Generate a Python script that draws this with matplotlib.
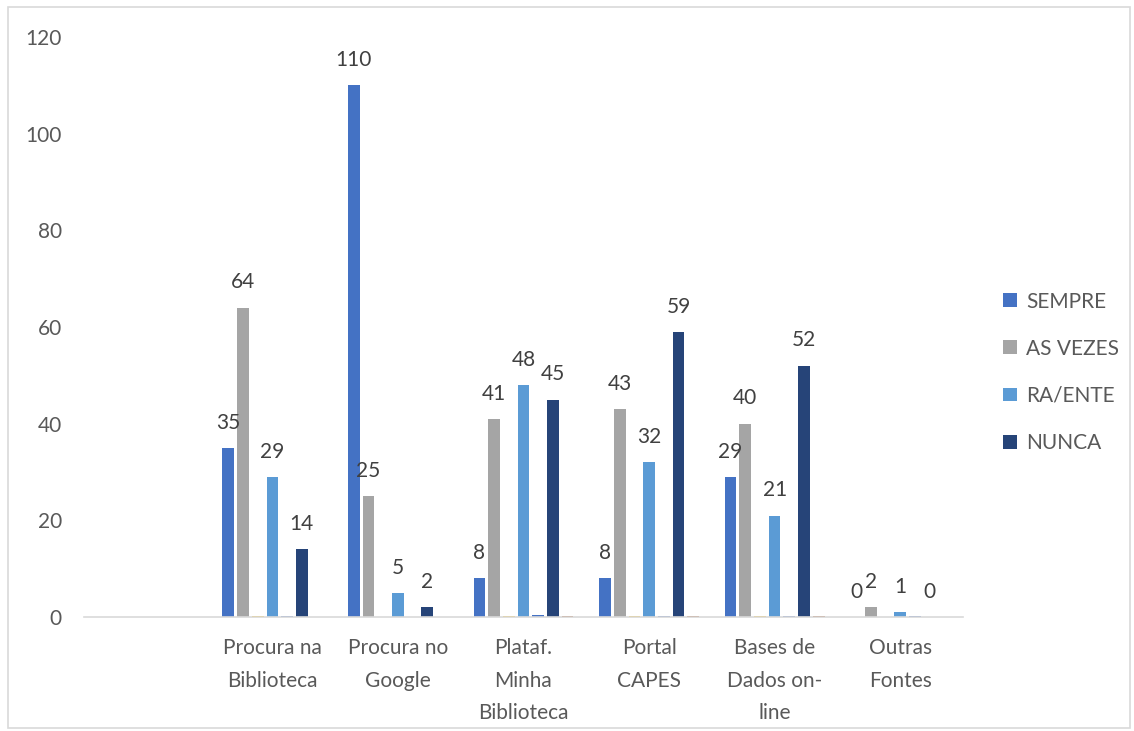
import numpy as np
import matplotlib
matplotlib.use('Agg')
from matplotlib import pyplot as plt
from matplotlib.patches import Rectangle

plt.rcParams['font.family'] = ['Lato', 'DejaVu Sans']

categories = ['', 'Procura na\nBiblioteca', 'Procura no\nGoogle', 'Plataf.\nMinha\nBiblioteca',
              'Portal\nCAPES', 'Bases de\nDados on-\nline', 'Outras\nFontes']

# main series (first category is empty)
sempre   = [np.nan, 35, 110, 8, 8, 29, 0]
as_vezes = [np.nan, 64, 25, 41, 43, 40, 2]
ra_ente  = [np.nan, 29, 5, 48, 32, 21, 1]
nunca    = [np.nan, 14, 2, 45, 59, 52, 0]

# near-zero series without legend entry
hidden_a = [np.nan, 0.3, 0.1, 0.2, 0.2, 0.2, 0.0]
hidden_b = [np.nan, 0.3, 0.1, 0.4, 0.3, 0.3, 0.2]
hidden_c = [np.nan, 0.0, 0.0, 0.3, 0.3, 0.3, 0.0]

series = [
    (sempre, 'SEMPRE', '#4472C4', True),
    (as_vezes, 'AS VEZES', '#A5A5A5', True),
    (hidden_a, None, '#FFC000', False),
    (ra_ente, 'RA/ENTE', '#5B9BD5', True),
    (hidden_b, None, '#4472C4', False),
    (nunca, 'NUNCA', '#264478', True),
    (hidden_c, None, '#9E480E', False),
]

fig = plt.figure(figsize=(11.34, 7.31), dpi=100)
ax = fig.add_axes([84 / 1134, 1 - 617 / 731, 879 / 1134, 580 / 731])

x = np.arange(len(categories))
step = 0.117
width = 0.093
handles = []
for i, (vals, name, color, labelled) in enumerate(series):
    pos = x + (i - 3) * step
    bars = ax.bar(pos, vals, width, color=color, label=name)
    if labelled:
        handles.append(bars)
        for p, v in zip(pos, vals):
            if np.isnan(v):
                continue
            ax.annotate('{0:g}'.format(v), (p, v), xytext=(0, 11), textcoords='offset points',
                        ha='center', va='bottom', fontsize=15, color='#404040')

ax.set_xlim(-0.5, len(categories) - 0.5)
ax.set_ylim(0, 120)
ax.set_yticks(range(0, 121, 20))
ax.set_xticks(x)
ax.set_xticklabels(categories, fontsize=15, color='#595959', linespacing=1.8, va='top')
ax.tick_params(axis='y', labelsize=15, labelcolor='#595959', length=0, pad=16)
ax.tick_params(axis='x', length=0, pad=15)
for s in ['top', 'right', 'left']:
    ax.spines[s].set_visible(False)
ax.spines['bottom'].set_color('#D9D9D9')
ax.spines['bottom'].set_linewidth(1.2)

leg = ax.legend(handles=handles, loc='center left', bbox_to_anchor=(1.046, 0.422),
                frameon=False, fontsize=15, labelcolor='#595959', handlelength=0.65,
                handleheight=0.65, handletextpad=0.45, labelspacing=1.3, borderaxespad=0,
                borderpad=0)

fig.patches.append(Rectangle((8 / 1134, 3 / 731), 1122 / 1134, 721 / 731, transform=fig.transFigure,
                             fill=False, edgecolor='#D9D9D9', linewidth=1.2))

plt.savefig('out.png', dpi=100)
